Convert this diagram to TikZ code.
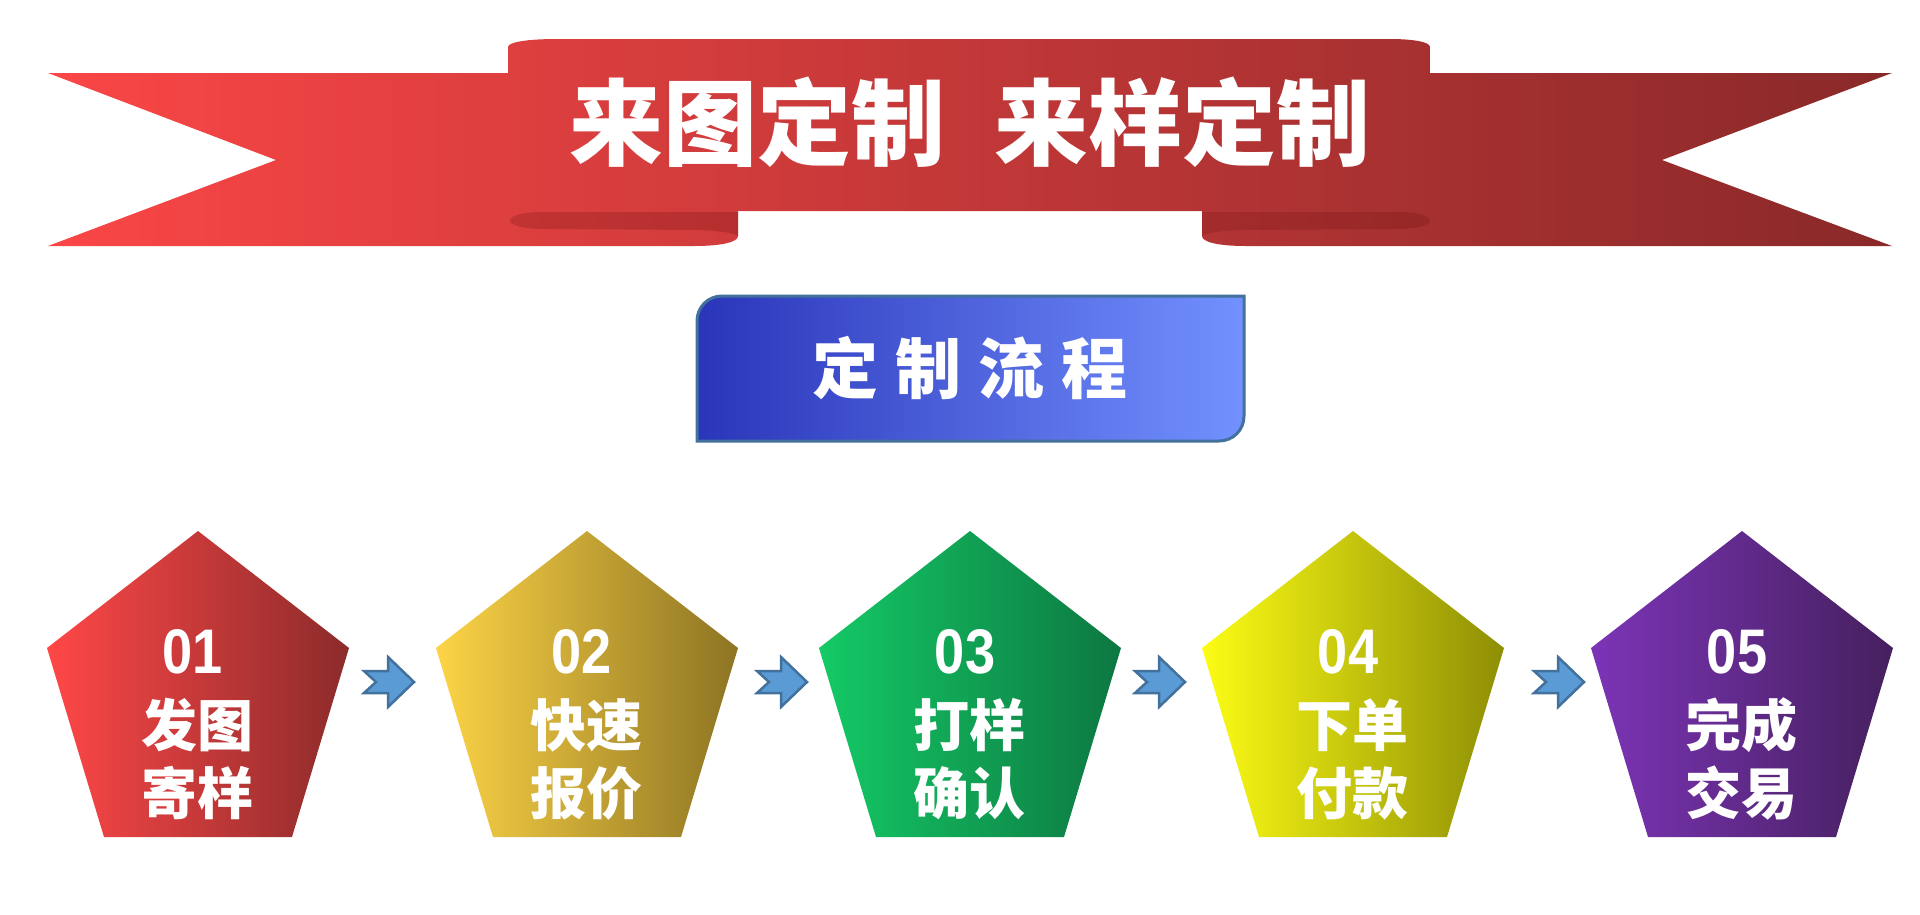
\documentclass[tikz,border=0pt]{standalone}
\usepackage{fontspec}
\usepackage{graphicx}
\newfontfamily\cjk{Noto Sans CJK SC}
\newfontfamily\digitfont{Liberation Sans}
\definecolor{bnL}{HTML}{FA4646}
\definecolor{bnM}{HTML}{DA3D3D}
\definecolor{bnR}{HTML}{8A2929}
\definecolor{foldLa}{HTML}{C23333}
\definecolor{foldLb}{HTML}{B52F2F}
\definecolor{foldRa}{HTML}{A42B2B}
\definecolor{foldRb}{HTML}{962828}
\definecolor{pAL}{HTML}{FF4747}
\definecolor{pAR}{HTML}{8C2B2B}
\definecolor{pBL}{HTML}{FDD446}
\definecolor{pBR}{HTML}{8D7423}
\definecolor{pCL}{HTML}{14CA66}
\definecolor{pCR}{HTML}{0D7741}
\definecolor{pDL}{HTML}{FCFC15}
\definecolor{pDR}{HTML}{8E8E05}
\definecolor{pEL}{HTML}{7C34B7}
\definecolor{pER}{HTML}{45205E}
\definecolor{chevF}{HTML}{5B9BD5}
\definecolor{chevD}{HTML}{41719C}
\definecolor{boxL}{HTML}{2A35B9}
\definecolor{boxR}{HTML}{7391FF}
\definecolor{boxD}{HTML}{41719C}
\tikzset{
  bannershade/.style={left color=bnL, middle color=bnM, right color=bnR},
  titletext/.style={text=white, inner sep=0pt, anchor=base, font=\cjk\bfseries\fontsize{94}{94}\selectfont},
  flowtext/.style={text=white, inner sep=0pt, anchor=base, font=\cjk\bfseries\fontsize{66}{66}\selectfont},
  pnum/.style={text=white, inner sep=0pt, anchor=base, font=\digitfont\bfseries\fontsize{63}{63}\selectfont},
  ptxt/.style={text=white, inner sep=0pt, anchor=base, font=\cjk\bfseries\fontsize{56}{56}\selectfont},
  chev/.style={fill=chevF, draw=chevD, line width=2.5pt, line join=miter},
}
\begin{document}
\begin{tikzpicture}[x=1pt,y=-1pt]
\useasboundingbox (0,0) rectangle (1920,914);
% ---- banner tails
\begin{scope}
  \clip (48,73) -- (738,73) -- (738,236) .. controls (738,242) and (722,246) .. (694,246) -- (48,246) -- (276,160) -- cycle;
  \shade[bannershade] (48,30) rectangle (1892,250);
\end{scope}
\begin{scope}
  \clip (1892,73) -- (1202,73) -- (1202,236) .. controls (1202,242) and (1218,246) .. (1246,246) -- (1892,246) -- (1662,160) -- cycle;
  \shade[bannershade] (48,30) rectangle (1892,250);
\end{scope}
% ---- fold curls
\shade[left color=foldLa, right color=foldLb] (738,212) -- (542,212) .. controls (522,212) and (510,216) .. (510,220.5) .. controls (510,225) and (522,229) .. (546,229) -- (700,230) .. controls (722,231) and (734,233) .. (738,236) -- cycle;
\shade[left color=foldRa, right color=foldRb] (1202,212) -- (1398,212) .. controls (1418,212) and (1430,216) .. (1430,220.5) .. controls (1430,225) and (1418,229) .. (1394,229) -- (1240,230) .. controls (1218,231) and (1206,233) .. (1202,236) -- cycle;
% ---- centre band
\begin{scope}
  \clip (508,211) -- (508,47) .. controls (508,42) and (528,39) .. (557,39) -- (1389,39) .. controls (1414,39) and (1430,42) .. (1430,47) -- (1430,211) -- cycle;
  \shade[bannershade] (48,30) rectangle (1892,250);
\end{scope}
\node[titletext] (title) at (970,158.5) {来图定制\hspace{0.53em}来样定制};
% ---- process heading box
\shade[left color=boxL, right color=boxR] (697,441) -- (697,321) .. controls (697,307) and (708,296) .. (722,296) -- (1244,296) -- (1244,416) .. controls (1244,430) and (1233,441) .. (1219,441) -- cycle;
\draw[boxD, line width=3pt] (697,441) -- (697,321) .. controls (697,307) and (708,296) .. (722,296) -- (1244,296) -- (1244,416) .. controls (1244,430) and (1233,441) .. (1219,441) -- cycle;
\node[flowtext] (flow) at (970,393) {定\hspace{17pt}制\hspace{17pt}流\hspace{17pt}程};
% ---- pentagons
\foreach \L/\ca/\cb/\n/\la/\lb [count=\i] in {47/pAL/pAR/01/发图/寄样, 436/pBL/pBR/02/快速/报价, 819/pCL/pCR/03/打样/确认, 1202/pDL/pDR/04/下单/付款, 1591/pEL/pER/05/完成/交易}
{
  \shade[left color=\ca, right color=\cb] (\L+151,531) -- (\L+302,648) -- (\L+245,837) -- (\L+57,837) -- (\L,648) -- cycle;
  \node[pnum] (num\i) at (\L+146,673) {\scalebox{0.86}[1]{\n}};
  \node[ptxt] (la\i) at (\L+150,746) {\la};
  \node[ptxt] (lb\i) at (\L+150,814) {\lb};
}
% ---- chevron arrows
\foreach \X [count=\j] in {364,757,1135,1534}
{
  \draw[chev] (\X,671) -- (\X+24,671) -- (\X+24,657) -- (\X+50,682) -- (\X+24,707) -- (\X+24,693) -- (\X,693) -- (\X+12,682) -- cycle;
}
\end{tikzpicture}
\end{document}
